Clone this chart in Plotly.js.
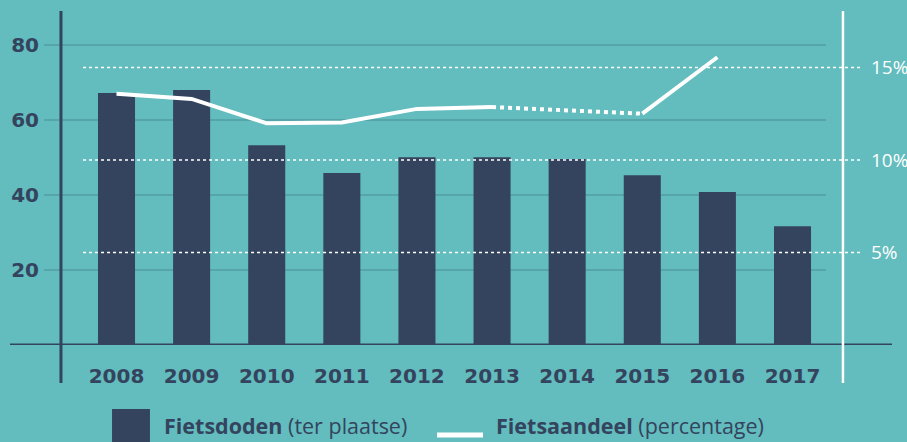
<!DOCTYPE html>
<html>
<head>
<meta charset="utf-8">
<script src="https://cdn.plot.ly/plotly-3.0.1.min.js"></script>
<style>
  html, body { margin: 0; padding: 0; background: #63BCBD; }
  #chart { width: 907px; height: 442px; }
</style>
</head>
<body>
<div id="chart"></div>
<script>
// ---- data ----
const years = ['2008', '2009', '2010', '2011', '2012', '2013', '2014', '2015', '2016', '2017'];
const fietsdoden = [67.2, 68.0, 53.3, 45.9, 50.1, 50.1, 49.6, 45.3, 40.8, 31.7];
const fietsaandeel = [13.58, 13.30, 11.98, 12.02, 12.76, 12.86, null, 12.50, 15.55, null];
const leftTickVals = [20, 40, 60, 80];
const leftTickText = ['20', '40', '60', '80'];
const rightTickVals = [5, 10, 15];
const rightTickText = ['5%', '10%', '15%'];
const legendLabels = ['<b>Fietsdoden</b> (ter plaatse)', '<b>Fietsaandeel</b> (percentage)'];

// ---- styles ----
const BG = '#63BCBD';
const NAVY = '#34445E';
const GRID = '#56A6A9';

// dotted bridge over missing years (connect neighbours of a gap)
const bridge = fietsaandeel.map(() => null);
for (let i = 1; i < fietsaandeel.length - 1; i++) {
  if (fietsaandeel[i] === null && fietsaandeel[i - 1] !== null) {
    let j = i + 1;
    while (j < fietsaandeel.length && fietsaandeel[j] === null) j++;
    if (j < fietsaandeel.length) {
      bridge[i - 1] = fietsaandeel[i - 1];
      bridge[j] = fietsaandeel[j];
    }
  }
}

const traces = [
  {
    type: 'bar', x: years, y: fietsdoden, name: 'Fietsdoden',
    marker: { color: NAVY }, hoverinfo: 'x+y', showlegend: false
  },
  {
    type: 'scatter', mode: 'lines', x: years, y: fietsaandeel, yaxis: 'y2',
    name: 'Fietsaandeel', connectgaps: false,
    line: { color: '#FFFFFF', width: 4 }, showlegend: false
  },
  {
    type: 'scatter', mode: 'lines', x: years, y: bridge, yaxis: 'y2',
    name: 'Fietsaandeel (geschat)', connectgaps: true,
    line: { color: '#FFFFFF', width: 4, dash: 'dot' }, showlegend: false
  }
];

const shapes = [];
// dotted percentage reference lines
rightTickVals.forEach(v => shapes.push({
  type: 'line', xref: 'paper', yref: 'y2', x0: 0.0499, x1: 1.046, y0: v, y1: v,
  line: { color: '#FFFFFF', width: 1.5, dash: 'dot' }, layer: 'above'
}));
// baseline
shapes.push({ type: 'line', xref: 'paper', yref: 'y', x0: -0.0435, x1: 1.0844, y0: 0, y1: 0,
  line: { color: NAVY, width: 3 } });
// left axis line
shapes.push({ type: 'line', xref: 'paper', yref: 'paper', x0: 0.0217, x1: 0.0217, y0: -0.114, y1: 1,
  line: { color: NAVY, width: 3 } });
// right axis line
shapes.push({ type: 'line', xref: 'paper', yref: 'paper', x0: 1.0217, x1: 1.0217, y0: -0.114, y1: 1,
  line: { color: '#FFFFFF', width: 2.5 } });
// legend keys
shapes.push({ type: 'rect', xref: 'paper', yref: 'paper', x0: 0.0870, x1: 0.1355, y0: -0.1916, y1: -0.32,
  fillcolor: NAVY, line: { width: 0 } });
shapes.push({ type: 'line', xref: 'paper', yref: 'paper', x0: 0.5026, x1: 0.5614, y0: -0.2695, y1: -0.2695,
  line: { color: '#FFFFFF', width: 5 } });

const annotations = [
  { xref: 'paper', yref: 'paper', x: 0.1509, y: -0.2425, xanchor: 'left', yanchor: 'middle',
    text: legendLabels[0], showarrow: false, font: { family: 'Open Sans', size: 21.5, color: NAVY } },
  { xref: 'paper', yref: 'paper', x: 0.5754, y: -0.2425, xanchor: 'left', yanchor: 'middle',
    text: legendLabels[1], showarrow: false, font: { family: 'Open Sans', size: 21.5, color: NAVY } }
];

const layout = {
  width: 907, height: 442,
  margin: { l: 44, r: 81, t: 11, b: 97, pad: 0 },
  paper_bgcolor: BG, plot_bgcolor: BG,
  showlegend: false,
  bargap: 0.507,
  xaxis: {
    type: 'category', range: [-0.9653, 9.446], showgrid: false, zeroline: false, showline: false,
    ticks: '', ticklabelstandoff: 17, fixedrange: true,
    tickfont: { family: 'DejaVu Sans', size: 20, weight: 'bold', color: NAVY }
  },
  yaxis: {
    range: [0, 89.07], tickvals: leftTickVals, ticktext: leftTickText,
    showgrid: true, gridcolor: GRID, gridwidth: 2, zeroline: false, showline: false,
    ticks: '', ticklabelstandoff: 4, fixedrange: true,
    tickfont: { family: 'DejaVu Sans', size: 20, weight: 'bold', color: NAVY }
  },
  yaxis2: {
    overlaying: 'y', side: 'right', range: [0, 18.05],
    tickvals: rightTickVals, ticktext: rightTickText,
    showgrid: false, zeroline: false, showline: false, ticks: '', ticklabelstandoff: 44,
    fixedrange: true,
    tickfont: { family: 'Open Sans', size: 19, color: '#FFFFFF' }
  },
  shapes: shapes,
  annotations: annotations
};

Plotly.newPlot('chart', traces, layout, { displayModeBar: false, staticPlot: true });
</script>
</body>
</html>
